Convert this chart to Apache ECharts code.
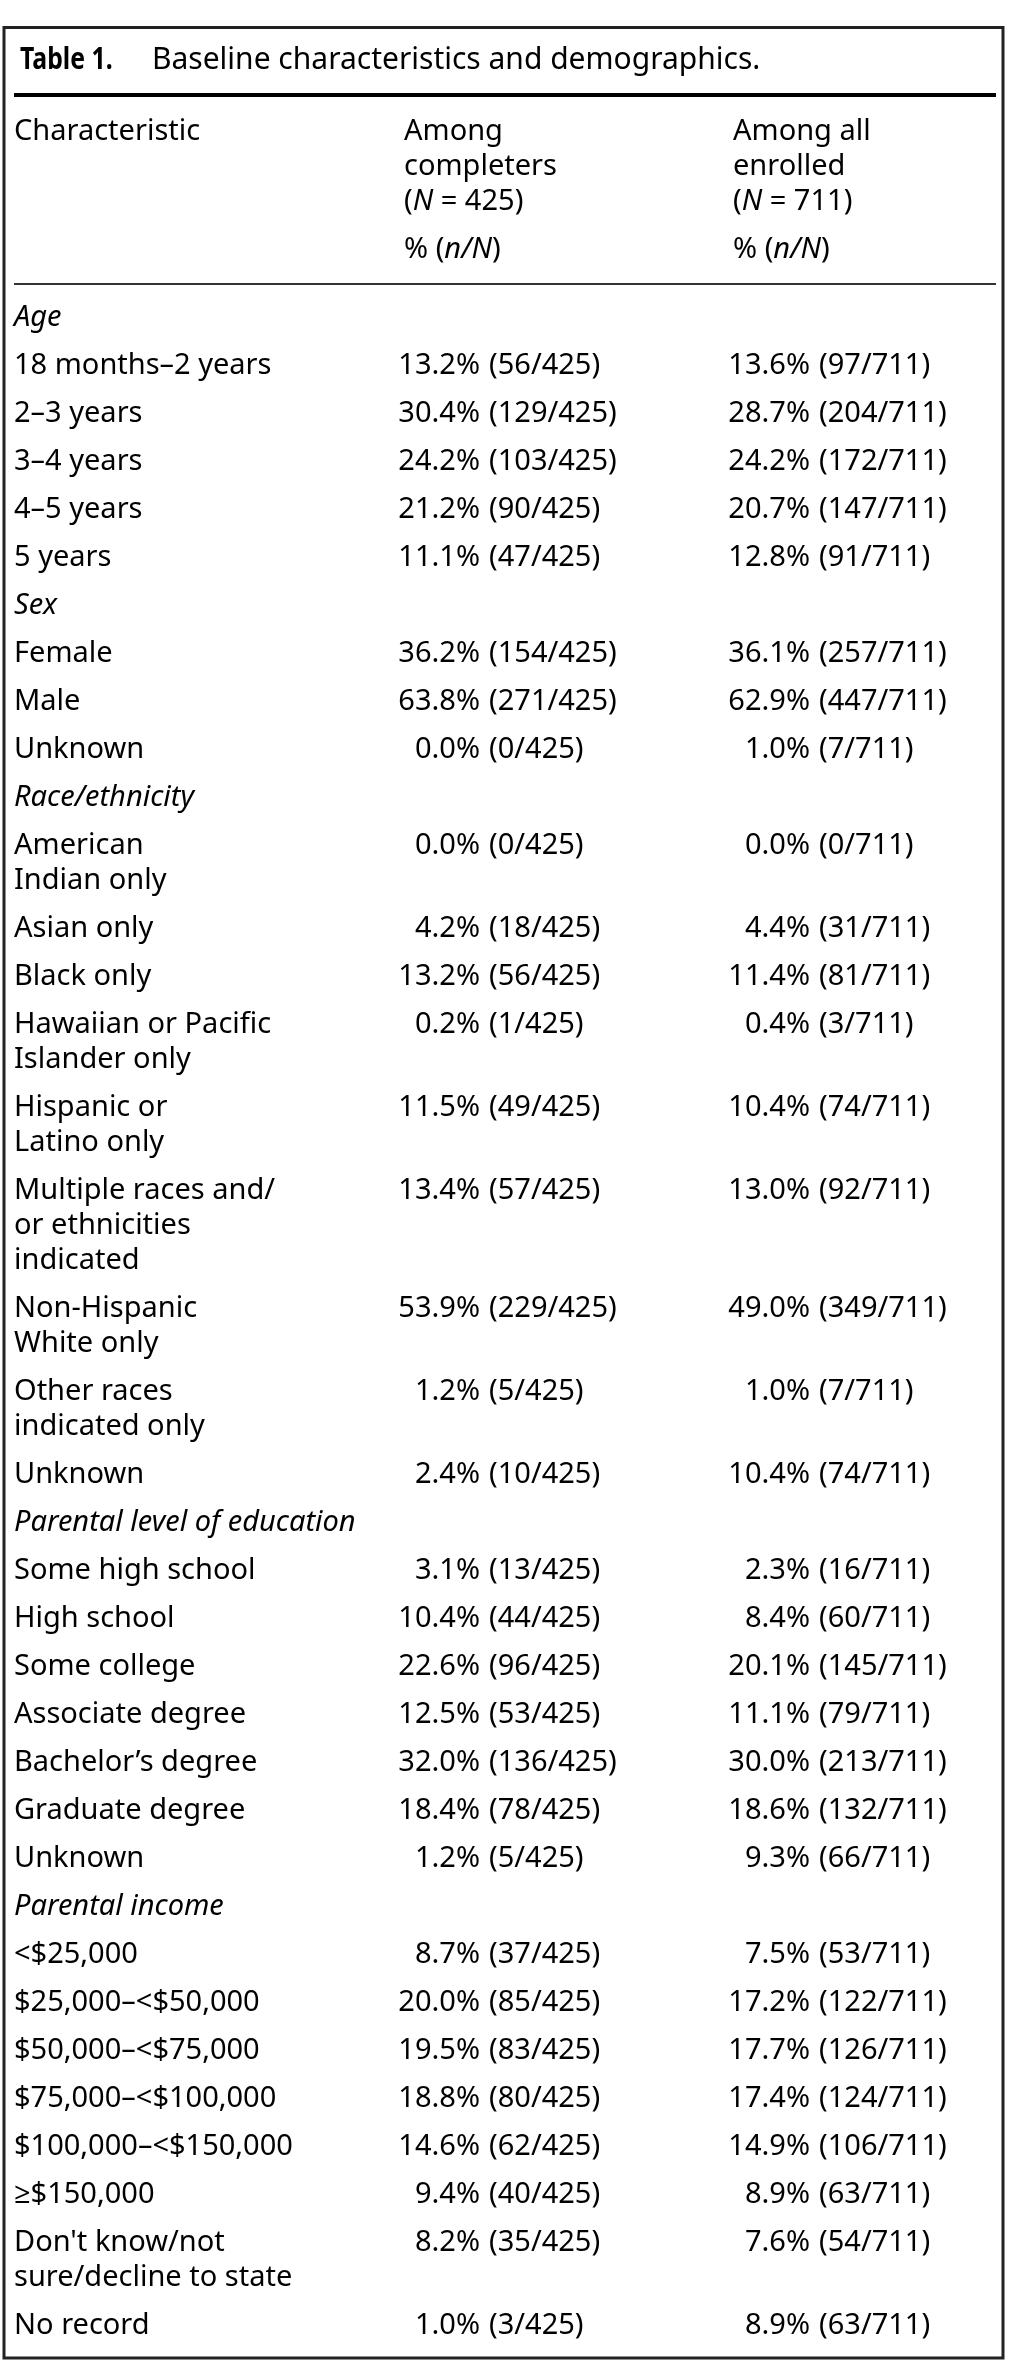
<!DOCTYPE html>
<html>
<head>
<meta charset="utf-8">
<title>Table 1. Baseline characteristics and demographics.</title>
<script src="https://cdn.jsdelivr.net/npm/echarts@6/dist/echarts.min.js"></script>
<style>
  html, body { margin: 0; padding: 0; background: #fff; }
  #main { width: 1009px; height: 2373px; }
</style>
</head>
<body>
<div id="main"></div>
<script>
// 数据：分组名称
var groupNames = ['Age', 'Sex', 'Race/ethnicity', 'Parental level of education', 'Parental income'];
// 每组的行标签（\n 表示原表中的换行）
var ageLabels = ['18 months\u20132 years', '2\u20133 years', '3\u20134 years', '4\u20135 years', '5 years'];
var sexLabels = ['Female', 'Male', 'Unknown'];
var raceLabels = ['American\nIndian only', 'Asian only', 'Black only', 'Hawaiian or Pacific\nIslander only',
  'Hispanic or\nLatino only', 'Multiple races and/\nor ethnicities\nindicated', 'Non-Hispanic\nWhite only',
  'Other races\nindicated only', 'Unknown'];
var educationLabels = ['Some high school', 'High school', 'Some college', 'Associate degree',
  'Bachelor\u2019s degree', 'Graduate degree', 'Unknown'];
var incomeLabels = ['<$25,000', '$25,000\u2013<$50,000', '$50,000\u2013<$75,000', '$75,000\u2013<$100,000',
  '$100,000\u2013<$150,000', '\u2265$150,000', 'Don\'t know/not\nsure/decline to state', 'No record'];
var groupLabels = [ageLabels, sexLabels, raceLabels, educationLabels, incomeLabels];

// 数据：按行顺序排列的数值
var totalCompleters = 425;
var totalEnrolled = 711;
var completersPct = [13.2, 30.4, 24.2, 21.2, 11.1, 36.2, 63.8, 0.0, 0.0, 4.2, 13.2, 0.2, 11.5, 13.4, 53.9, 1.2, 2.4,
  3.1, 10.4, 22.6, 12.5, 32.0, 18.4, 1.2, 8.7, 20.0, 19.5, 18.8, 14.6, 9.4, 8.2, 1.0];
var completersN = [56, 129, 103, 90, 47, 154, 271, 0, 0, 18, 56, 1, 49, 57, 229, 5, 10,
  13, 44, 96, 53, 136, 78, 5, 37, 85, 83, 80, 62, 40, 35, 3];
var enrolledPct = [13.6, 28.7, 24.2, 20.7, 12.8, 36.1, 62.9, 1.0, 0.0, 4.4, 11.4, 0.4, 10.4, 13.0, 49.0, 1.0, 10.4,
  2.3, 8.4, 20.1, 11.1, 30.0, 18.6, 9.3, 7.5, 17.2, 17.7, 17.4, 14.9, 8.9, 7.6, 8.9];
var enrolledN = [97, 204, 172, 147, 91, 257, 447, 7, 0, 31, 81, 3, 74, 92, 349, 7, 74,
  16, 60, 145, 79, 213, 132, 66, 53, 122, 126, 124, 106, 63, 54, 63];

// 版式
var W = 1009, H = 2373;
var FONT = '"Noto Sans", "Open Sans", sans-serif';
var fontSize = 29;
var lineH = 35;     // 单元格内换行行距
var rowStep = 48;   // 单行的行距
var firstRowY = 318;
var colLabelX = 14;
var col2PctRight = 480, col2NLeft = 489;
var col3PctRight = 810, col3NLeft = 819;

// 构造表格行
var rows = [];
(function(){
  var y = firstRowY;
  var k = 0;
  for (var g = 0; g < groupNames.length; g++) {
    rows.push({ label: groupNames[g], head: true, y: y });
    y += rowStep;
    var labels = groupLabels[g];
    for (var i = 0; i < labels.length; i++) {
      rows.push({
        label: labels[i], head: false, y: y,
        p1: completersPct[k].toFixed(1) + '%', n1: '(' + completersN[k] + '/' + totalCompleters + ')',
        p2: enrolledPct[k].toFixed(1) + '%', n2: '(' + enrolledN[k] + '/' + totalEnrolled + ')'
      });
      y += rowStep + lineH * (labels[i].split('\n').length - 1);
      k++;
    }
  }
})();

function txt(text, x, y, align, extra) {
  var st = {
    text: text, x: x, y: y, align: align || 'left', verticalAlign: 'top',
    fill: '#000', fontSize: fontSize, fontFamily: FONT, lineHeight: lineH
  };
  for (var e in extra || {}) st[e] = extra[e];
  return { type: 'text', style: st };
}

var chart = echarts.init(document.getElementById('main'), null, { renderer: 'canvas' });

var italicRich = { i: { fontStyle: 'italic', fontSize: fontSize, fontFamily: FONT, lineHeight: lineH } };

var option = {
  backgroundColor: '#fff',
  animation: false,
  grid: { left: 0, top: 0, right: 0, bottom: 0 },
  xAxis: { type: 'value', min: 0, max: W, show: false },
  yAxis: { type: 'value', min: 0, max: H, inverse: true, show: false },
  graphic: [
    // 外框
    { type: 'rect', shape: { x: 4, y: 27.5, width: 999, height: 2330.5 },
      style: { fill: 'none', stroke: '#222', lineWidth: 3 } },
    // 标题
    { type: 'text', x: 20, y: 60, scaleX: 0.8,
      style: { text: 'Table 1.', fontSize: 31, fontWeight: 'bold', fontFamily: FONT,
        fill: '#000', verticalAlign: 'middle' } },
    { type: 'text', x: 152, y: 60,
      style: { text: 'Baseline characteristics and demographics.', fontSize: 30, fontFamily: FONT,
        fill: '#000', verticalAlign: 'middle' } },
    { type: 'line', shape: { x1: 14, y1: 95, x2: 996, y2: 95 },
      style: { stroke: '#000', lineWidth: 4 } },
    // 表头
    { type: 'text', x: colLabelX, y: 132 - lineH / 2,
      style: { text: 'Characteristic', fontSize: fontSize, fontFamily: FONT, fill: '#000',
        verticalAlign: 'top', lineHeight: lineH } },
    { type: 'text', x: 404, y: 132 - lineH / 2,
      style: { text: 'Among\ncompleters\n({i|N} = ' + totalCompleters + ')', fontSize: fontSize, fontFamily: FONT,
        fill: '#000', verticalAlign: 'top', lineHeight: lineH, rich: italicRich } },
    { type: 'text', x: 404, y: 250 - lineH / 2,
      style: { text: '% ({i|n/N})', fontSize: fontSize, fontFamily: FONT, fill: '#000',
        verticalAlign: 'top', lineHeight: lineH, rich: italicRich } },
    { type: 'text', x: 733, y: 132 - lineH / 2,
      style: { text: 'Among all\nenrolled\n({i|N} = ' + totalEnrolled + ')', fontSize: fontSize, fontFamily: FONT,
        fill: '#000', verticalAlign: 'top', lineHeight: lineH, rich: italicRich } },
    { type: 'text', x: 733, y: 250 - lineH / 2,
      style: { text: '% ({i|n/N})', fontSize: fontSize, fontFamily: FONT, fill: '#000',
        verticalAlign: 'top', lineHeight: lineH, rich: italicRich } },
    { type: 'line', shape: { x1: 14, y1: 284, x2: 996, y2: 284 },
      style: { stroke: '#333', lineWidth: 2 } }
  ],
  series: [{
    type: 'custom',
    clip: false,
    silent: true,
    data: rows.map(function(r, i){ return [0, r.y, i]; }),
    encode: { x: 0, y: 1 },
    renderItem: function(params, api){
      var r = rows[api.value(2)];
      var cy = api.coord([0, api.value(1)])[1];
      var top = cy - lineH / 2;
      var xs = function(v){ return api.coord([v, 0])[0]; };
      var children = [];
      if (r.head) {
        children.push(txt(r.label, xs(colLabelX), top, 'left', { fontStyle: 'italic' }));
      } else {
        children.push(txt(r.label, xs(colLabelX), top, 'left'));
        children.push(txt(r.p1, xs(col2PctRight), top, 'right'));
        children.push(txt(r.n1, xs(col2NLeft), top, 'left'));
        children.push(txt(r.p2, xs(col3PctRight), top, 'right'));
        children.push(txt(r.n2, xs(col3NLeft), top, 'left'));
      }
      return { type: 'group', children: children };
    }
  }]
};
chart.setOption(option);
</script>
</body>
</html>
